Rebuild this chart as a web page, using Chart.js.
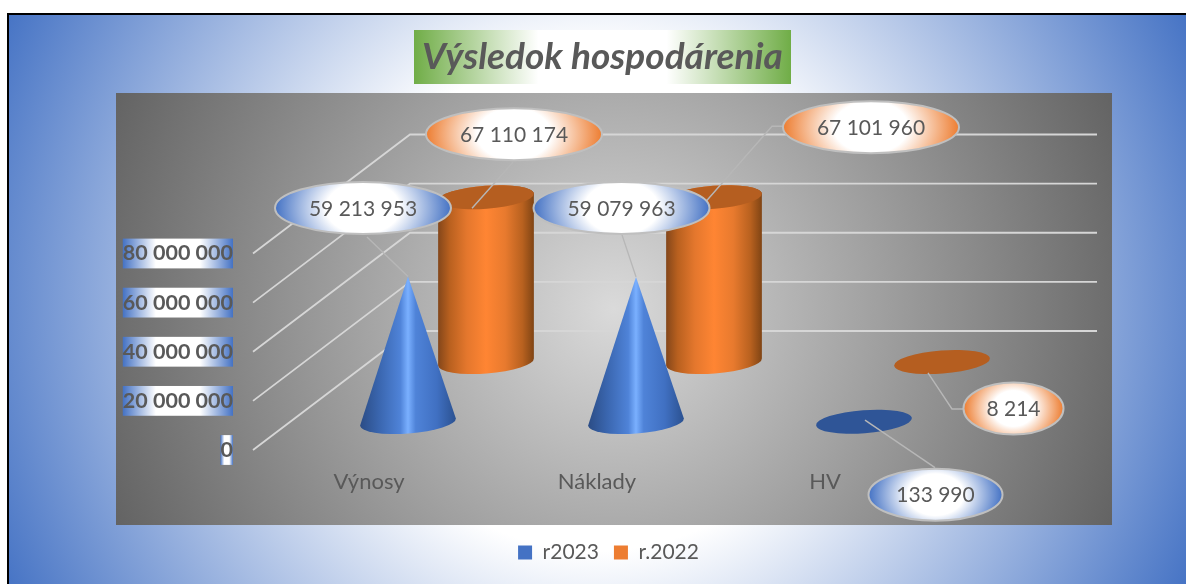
<!DOCTYPE html>
<html>
<head>
<meta charset="utf-8">
<style>html,body{margin:0;padding:0;background:#fff;overflow:hidden}canvas{display:block}</style>
<script src="https://cdn.jsdelivr.net/npm/chart.js@4"></script>
</head>
<body>
<div style="width:1186px;height:584px;position:relative"><canvas id="c" width="1186" height="584"></canvas></div>
<script>
const categories = ['Výnosy', 'Náklady', 'HV'];
const series2023 = [59213953, 59079963, 133990];
const series2022 = [67110174, 67101960, 8214];
const seriesNames = ['r2023', 'r.2022'];
const chartTitle = 'Výsledok hospodárenia';
const axisMax = 80000000;
const axisStep = 20000000;

const FONT = 'Lato';
const TEXT = '#595959';
const formatNum = v => String(Math.round(v)).replace(/\B(?=(\d{3})+$)/g, ' ');

/* projection of the 3-D look */
const WALL = { dx: 157, dy: 119 };
const DEPTH = [{ dx: 39, dy: 28 }, { dx: 117, dy: 88 }];
const MARK = { rx: 48, ry: 11.5, rot: -0.075 };
/* callouts: label centre and leader end, relative to the top of each mark */
const CALLOUTS = [
  [ { cx: -45, cy: -68.6, rx: 88, leader: [[-41, -39.6], [0, 0]] },
    { cx: -14.5, cy: -69, rx: 88, leader: [[-14, -42], [0, 0]] },
    { cx: 71.5, cy: 73, rx: 67, leader: [[71, 46], [1, -1.5]] } ],
  [ { cx: 28, cy: -63, rx: 88, leader: [[27, -35], [-14, 11]] },
    { cx: 157, cy: -70, rx: 88, leader: [[69, -71], [58, -71], [-14, 11]] },
    { cx: 71.5, cy: 46.5, rx: 50, leader: [[22, 47], [10, 47], [-14, 11]] } ]
];
const PALETTE = [
  { legend: '#4472C4', lid: '#2F5597',
    stops: [[0, '#2B4C85'], [.2, '#3A66AF'], [.42, '#4F83D8'], [.5, '#7AB0FF'], [.58, '#4F83D8'], [.8, '#4070C2'], [1, '#2B5190']] },
  { legend: '#ED7D31', lid: '#B55E20',
    stops: [[0, '#83461A'], [.12, '#B8601F'], [.3, '#E4772D'], [.5, '#FF8533'], [.7, '#E87A2E'], [.88, '#B8611F'], [1, '#7F4414']] }
];

function tickGradient(c) {
  const s = c.scale, g = s.ctx;
  g.save(); g.font = s.options.ticks.font.weight + ' ' + s.options.ticks.font.size + 'px ' + FONT;
  const w = g.measureText(c.tick.label).width; g.restore();
  /* Chart.js paints the backdrop in coordinates relative to the label anchor */
  const lg = g.createLinearGradient(-w, 0, 0, 0);
  lg.addColorStop(0, '#4472C4'); lg.addColorStop(.3, '#fff'); lg.addColorStop(.7, '#fff'); lg.addColorStop(1, '#4472C4');
  return lg;
}

const scene = {
  id: 'scene',
  beforeDraw(chart) {
    const g = chart.ctx;
    g.save();
    g.fillStyle = '#fff'; g.fillRect(0, 0, 1186, 584);
    let rg = g.createRadialGradient(597, 300, 0, 597, 300, 660);
    rg.addColorStop(0, '#fff'); rg.addColorStop(.38, '#fff'); rg.addColorStop(1, '#4472C4');
    g.fillStyle = rg; g.fillRect(7, 13, 1179, 571);
    g.fillStyle = '#000'; g.fillRect(7, 13, 2, 571); g.fillRect(7, 13, 1179, 2);
    rg = g.createRadialGradient(614, 309, 0, 614, 309, 543);
    rg.addColorStop(0, '#DADADA'); rg.addColorStop(1, '#636363');
    g.fillStyle = rg; g.fillRect(116, 93, 996, 432);
    const lg = g.createLinearGradient(414, 0, 791, 0);
    lg.addColorStop(0, '#70AD47'); lg.addColorStop(.33, '#fff'); lg.addColorStop(.67, '#fff'); lg.addColorStop(1, '#70AD47');
    g.fillStyle = lg; g.fillRect(414, 30, 377, 54);
    /* walls: grid lines taken from the y scale */
    const y = chart.scales.y, a = chart.chartArea;
    g.strokeStyle = '#D6D6D6'; g.lineWidth = 1.8;
    y.ticks.forEach(t => {
      const p = y.getPixelForValue(t.value);
      g.beginPath();
      g.moveTo(a.left - 2, p);
      g.lineTo(a.left + WALL.dx - 2, p - WALL.dy);
      g.lineTo(a.right + WALL.dx + 1, p - WALL.dy);
      g.stroke();
    });
    g.restore();
  },
  afterLayout(chart) {
    const l = chart.legend; l.left += 139; l.right += 139;
    const t = chart.titleBlock; t.left += 133; t.right += 133;
  },
  beforeDatasetDraw(chart, args) {
    const i = args.index, g = chart.ctx, pal = PALETTE[i], d = DEPTH[i];
    args.meta.data.forEach(el => {
      const cx = el.x + d.dx, top = el.y - d.dy, base = el.base - d.dy;
      const { rx, ry, rot } = MARK;
      g.save();
      if (base - top < 3) {
        g.fillStyle = pal.lid;
        g.beginPath(); g.ellipse(cx, top, rx, ry, rot, 0, Math.PI * 2); g.fill();
      } else {
        const lg = g.createLinearGradient(cx - rx, 0, cx + rx, 0);
        pal.stops.forEach(s => lg.addColorStop(s[0], s[1]));
        g.fillStyle = lg;
        g.beginPath();
        g.ellipse(cx, base, rx, ry, rot, 0, Math.PI);
        if (i === 0) {
          g.lineTo(cx, top);
        } else {
          g.ellipse(cx, top, rx, ry, rot, Math.PI, Math.PI * 2);
        }
        g.closePath(); g.fill();
        if (i === 1) {
          g.fillStyle = pal.lid;
          g.beginPath(); g.ellipse(cx, top, rx, ry, rot, 0, Math.PI * 2); g.fill();
        }
      }
      g.restore();
    });
    return false;
  },
  afterDatasetsDraw(chart) {
    const g = chart.ctx;
    [1, 0].forEach(i => {
      const meta = chart.getDatasetMeta(i), d = DEPTH[i];
      meta.data.forEach((el, k) => {
        const ax = el.x + d.dx, ay = el.y - d.dy, c = CALLOUTS[i][k];
        g.save();
        g.strokeStyle = '#B7B7B7'; g.lineWidth = 1.4;
        g.beginPath();
        c.leader.forEach((p, n) => n ? g.lineTo(ax + p[0], ay + p[1]) : g.moveTo(ax + p[0], ay + p[1]));
        g.stroke();
        g.restore();
      });
    });
    [1, 0].forEach(i => {
      const meta = chart.getDatasetMeta(i), d = DEPTH[i];
      meta.data.forEach((el, k) => {
        const ax = el.x + d.dx, ay = el.y - d.dy, c = CALLOUTS[i][k];
        const x = ax + c.cx, y = ay + c.cy, ry = 26;
        const reach = 0.42 + (88 - c.rx) * 0.005;
        const sy = (ry / reach) / c.rx;
        g.save();
        g.translate(x, y); g.scale(1, sy);
        const rg = g.createRadialGradient(0, 0, 0, 0, 0, c.rx);
        rg.addColorStop(0, '#fff'); rg.addColorStop(.42, '#fff'); rg.addColorStop(1, i ? '#ED7D31' : '#4472C4');
        g.fillStyle = rg;
        g.beginPath(); g.ellipse(0, 0, c.rx, ry / sy, 0, 0, Math.PI * 2); g.fill();
        g.setTransform(1, 0, 0, 1, 0, 0);
        g.strokeStyle = '#BFBFBF'; g.lineWidth = 2;
        g.beginPath(); g.ellipse(x, y, c.rx, ry, 0, 0, Math.PI * 2); g.stroke();
        g.fillStyle = TEXT; g.font = '21px ' + FONT;
        g.textAlign = 'center'; g.textBaseline = 'middle';
        g.fillText(formatNum(meta.controller.getParsed(k).y), x, y + 1);
        g.restore();
      });
    });
  }
};

new Chart(document.getElementById('c'), {
  type: 'bar',
  data: {
    labels: categories,
    datasets: [
      { label: seriesNames[0], data: series2023, backgroundColor: PALETTE[0].legend, grouped: false, barPercentage: .42, categoryPercentage: 1 },
      { label: seriesNames[1], data: series2022, backgroundColor: PALETTE[1].legend, grouped: false, barPercentage: .42, categoryPercentage: 1 }
    ]
  },
  options: {
    responsive: false,
    animation: false,
    layout: { padding: { left: 0, right: 247, top: 0, bottom: 11 } },
    plugins: {
      title: {
        display: true, text: chartTitle, color: TEXT,
        font: { family: FONT, size: 37, weight: 'bold', style: 'italic', lineHeight: 44 / 37 },
        padding: { top: 35.5, bottom: 174 }
      },
      legend: {
        position: 'bottom',
        labels: { color: TEXT, boxWidth: 14, boxHeight: 14, padding: 15, font: { family: FONT, size: 21, lineHeight: 26 / 21 } }
      },
      tooltip: { enabled: false }
    },
    scales: {
      x: {
        grid: { display: false, drawTicks: false }, border: { display: false },
        ticks: { color: TEXT, padding: 19, font: { family: FONT, size: 22 }, maxRotation: 0 },
        afterFit(s) { s.height = 77; }
      },
      y: {
        min: 0, max: axisMax,
        grid: { display: false, drawTicks: false }, border: { display: false },
        ticks: {
          stepSize: axisStep, color: TEXT, padding: 22,
          font: { family: FONT, size: 21.5, weight: 'bold' },
          callback: v => formatNum(v),
          showLabelBackdrop: true, backdropPadding: { left: 0, right: 0, top: 2, bottom: 2 },
          backdropColor: tickGradient
        },
        afterFit(s) { s.width = 255; }
      }
    }
  },
  plugins: [scene]
});
</script>
</body>
</html>
